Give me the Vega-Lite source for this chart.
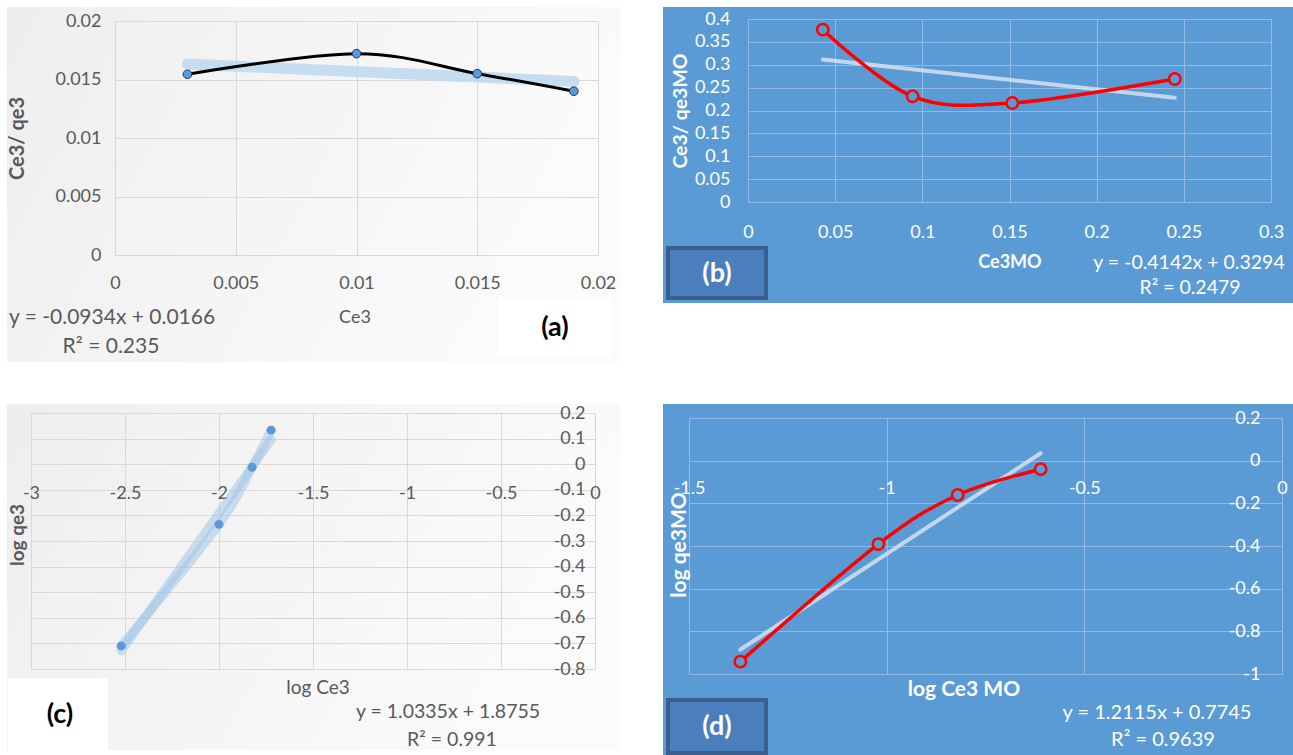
{
  "$schema": "https://vega.github.io/schema/vega-lite/v6.json",
  "background": "white",
  "padding": {"left": 7, "top": 7, "right": 0, "bottom": 0},
  "config": {
    "font": "Lato",
    "text": {"font": "Lato"},
    "axis": {"labelFlush": false, "labelOverlap": false, "labelBound": false, "domain": false, "ticks": false, "tickSize": 0, "tickCount": 20, "labelFontSize": 18, "titleFontSize": 18, "labelExpr": "'' + datum.value"}
  },
  "datasets": {
    "a": [
      {"Ce3": 0.003, "Ce3_qe3": 0.01545},
      {"Ce3": 0.010, "Ce3_qe3": 0.01721},
      {"Ce3": 0.015, "Ce3_qe3": 0.0155},
      {"Ce3": 0.019, "Ce3_qe3": 0.0140}
    ],
    "a_fit": [
      {"Ce3": 0.003, "fit": 0.01632},
      {"Ce3": 0.019, "fit": 0.01483}
    ],
    "b": [
      {"Ce3MO": 0.0429, "Ce3_qe3MO": 0.3767},
      {"Ce3MO": 0.0944, "Ce3_qe3MO": 0.2310},
      {"Ce3MO": 0.1516, "Ce3_qe3MO": 0.2164},
      {"Ce3MO": 0.2448, "Ce3_qe3MO": 0.2689}
    ],
    "b_fit": [
      {"Ce3MO": 0.0429, "fit": 0.3116},
      {"Ce3MO": 0.2448, "fit": 0.2280}
    ],
    "c": [
      {"logCe3": -2.52, "logqe3": -0.71},
      {"logCe3": -2.0, "logqe3": -0.235},
      {"logCe3": -1.824, "logqe3": -0.012},
      {"logCe3": -1.723, "logqe3": 0.133}
    ],
    "c_fit": [
      {"logCe3": -2.52, "fit": -0.7289},
      {"logCe3": -1.723, "fit": 0.0948}
    ],
    "d": [
      {"logCe3MO": -1.370, "logqe3MO": -0.942},
      {"logCe3MO": -1.021, "logqe3MO": -0.391},
      {"logCe3MO": -0.8204, "logqe3MO": -0.161},
      {"logCe3MO": -0.6105, "logqe3MO": -0.040}
    ],
    "d_fit": [
      {"logCe3MO": -1.370, "fit": -0.8853},
      {"logCe3MO": -0.6105, "fit": 0.0349}
    ],
    "one": [{}]
  },
  "columns": 2,
  "bounds": "flush",
  "align": "each",
  "spacing": {"row": 42, "column": 43},
  "concat": [
    {
      "width": 613,
      "height": 355,
      "view": {"stroke": null, "fill": {"gradient": "linear", "x1": 0, "y1": 0, "x2": 1, "y2": 0.3, "stops": [{"offset": 0, "color": "#eeeeee"}, {"offset": 1, "color": "#fbfbfb"}]}},
      "layer": [
        {
          "data": {"name": "a_fit"},
          "mark": {"type": "line", "color": "#bdd7ee", "strokeWidth": 11, "strokeCap": "round", "opacity": 0.85},
          "encoding": {
            "x": {"field": "Ce3", "type": "quantitative", "scale": {"domain": [0, 0.02], "range": [108, 591], "nice": false, "zero": false},
              "axis": {"orient": "top", "offset": -248, "values": [0, 0.005, 0.01, 0.015, 0.02], "labelColor": "#595959", "labelBaseline": "top", "labelPadding": -19, "grid": true, "gridColor": "#d9d9d9", "title": null}},
            "y": {"field": "fit", "type": "quantitative", "scale": {"domain": [0, 0.02], "range": [248, 14], "nice": false, "zero": false},
              "axis": {"orient": "left", "offset": -108, "values": [0, 0.005, 0.01, 0.015, 0.02], "labelColor": "#595959", "labelPadding": 14, "grid": true, "gridColor": "#d9d9d9", "title": "Ce3/ qe3", "titleFontSize": 20, "titleFontWeight": "bold", "titleColor": "#595959", "titlePadding": 27}}
          }
        },
        {
          "data": {"name": "a"},
          "mark": {"type": "line", "interpolate": "cardinal", "color": "#000000", "strokeWidth": 3},
          "encoding": {
            "x": {"field": "Ce3", "type": "quantitative"},
            "y": {"field": "Ce3_qe3", "type": "quantitative"}
          }
        },
        {
          "data": {"name": "a"},
          "mark": {"type": "point", "filled": true, "size": 75, "fill": "#5b9bd5", "stroke": "#203864", "strokeWidth": 1, "opacity": 1},
          "encoding": {
            "x": {"field": "Ce3", "type": "quantitative"},
            "y": {"field": "Ce3_qe3", "type": "quantitative"}
          }
        },
        {
          "data": {"name": "one"},
          "mark": {"type": "text", "text": "Ce3", "fontSize": 18, "fill": "#595959", "align": "center", "baseline": "middle"},
          "encoding": {
            "x": {"datum": 0.009938, "type": "quantitative"},
            "y": {"datum": -0.005385, "type": "quantitative"}
          }
        },
        {
          "data": {"name": "one"},
          "mark": {"type": "text", "text": "y = -0.0934x + 0.0166", "fontSize": 21, "fill": "#595959", "align": "left", "baseline": "middle"},
          "encoding": {
            "x": {"datum": -0.004389, "type": "quantitative"},
            "y": {"datum": -0.005385, "type": "quantitative"}
          }
        },
        {
          "data": {"name": "one"},
          "mark": {"type": "text", "text": "R² = 0.235", "fontSize": 21, "fill": "#595959", "align": "center", "baseline": "middle"},
          "encoding": {
            "x": {"datum": -0.000166, "type": "quantitative"},
            "y": {"datum": -0.007863, "type": "quantitative"}
          }
        },
        {
          "data": {"name": "one"},
          "mark": {"type": "rect", "fill": "#ffffff"},
          "encoding": {
            "x": {"datum": 0.015859, "type": "quantitative"},
            "x2": {"datum": 0.02058},
            "y": {"datum": -0.003675, "type": "quantitative"},
            "y2": {"datum": -0.008718}
          }
        },
        {
          "data": {"name": "one"},
          "mark": {"type": "text", "text": "(a)", "fontSize": 27, "fontWeight": "bold", "fill": "#000000", "align": "center", "baseline": "middle"},
          "encoding": {
            "x": {"datum": 0.018219, "type": "quantitative"},
            "y": {"datum": -0.006239, "type": "quantitative"}
          }
        }
      ]
    },
    {
      "width": 630,
      "height": 296,
      "view": {"stroke": null, "fill": "#5b9bd5"},
      "layer": [
        {
          "data": {"name": "b_fit"},
          "mark": {"type": "line", "color": "#dce6f2", "strokeWidth": 4, "strokeCap": "round", "opacity": 0.8},
          "encoding": {
            "x": {"field": "Ce3MO", "type": "quantitative", "scale": {"domain": [0, 0.3], "range": [85, 608], "nice": false, "zero": false},
              "axis": {"orient": "top", "offset": -195, "values": [0, 0.05, 0.1, 0.15, 0.2, 0.25, 0.3], "labelColor": "#ffffff", "labelBaseline": "top", "labelPadding": -21, "grid": true, "gridColor": "#8fbbe6", "title": null}},
            "y": {"field": "fit", "type": "quantitative", "scale": {"domain": [0, 0.4], "range": [195, 12], "nice": false, "zero": false},
              "axis": {"orient": "left", "offset": -85, "values": [0, 0.05, 0.1, 0.15, 0.2, 0.25, 0.3, 0.35, 0.4], "labelColor": "#ffffff", "labelPadding": 18, "grid": true, "gridColor": "#8fbbe6", "title": "Ce3/ qe3MO", "titleFontSize": 19.5, "titleFontWeight": "bold", "titleColor": "#ffffff", "titlePadding": 4}}
          }
        },
        {
          "data": {"name": "b"},
          "mark": {"type": "line", "interpolate": "cardinal", "color": "#ff0000", "strokeWidth": 3.5},
          "encoding": {
            "x": {"field": "Ce3MO", "type": "quantitative"},
            "y": {"field": "Ce3_qe3MO", "type": "quantitative"}
          }
        },
        {
          "data": {"name": "b"},
          "mark": {"type": "point", "filled": true, "size": 130, "fill": "#5b9bd5", "stroke": "#ff0000", "strokeWidth": 2.5, "opacity": 1},
          "encoding": {
            "x": {"field": "Ce3MO", "type": "quantitative"},
            "y": {"field": "Ce3_qe3MO", "type": "quantitative"}
          }
        },
        {
          "data": {"name": "one"},
          "mark": {"type": "text", "text": "Ce3MO", "fontSize": 18, "fontWeight": "bold", "fill": "#ffffff", "align": "center", "baseline": "middle"},
          "encoding": {
            "x": {"datum": 0.150287, "type": "quantitative"},
            "y": {"datum": -0.133333, "type": "quantitative"}
          }
        },
        {
          "data": {"name": "one"},
          "mark": {"type": "text", "text": "y = -0.4142x + 0.3294", "fontSize": 19.5, "fill": "#ffffff", "align": "center", "baseline": "middle"},
          "encoding": {
            "x": {"datum": 0.25296, "type": "quantitative"},
            "y": {"datum": -0.13333, "type": "quantitative"}
          }
        },
        {
          "data": {"name": "one"},
          "mark": {"type": "text", "text": "R² = 0.2479", "fontSize": 19.5, "fill": "#ffffff", "align": "center", "baseline": "middle"},
          "encoding": {
            "x": {"datum": 0.25354, "type": "quantitative"},
            "y": {"datum": -0.18798, "type": "quantitative"}
          }
        },
        {
          "data": {"name": "one"},
          "mark": {"type": "rect", "fill": "#4a7ebd", "stroke": "#3a5f8f", "strokeWidth": 4},
          "encoding": {
            "x": {"datum": -0.045889, "type": "quantitative"},
            "x2": {"datum": 0.010325},
            "y": {"datum": -0.100546, "type": "quantitative"},
            "y2": {"datum": -0.209836}
          }
        },
        {
          "data": {"name": "one"},
          "mark": {"type": "text", "text": "(b)", "fontSize": 27, "fontWeight": "bold", "fill": "#ffffff", "align": "center", "baseline": "middle"},
          "encoding": {
            "x": {"datum": -0.017782, "type": "quantitative"},
            "y": {"datum": -0.157377, "type": "quantitative"}
          }
        }
      ]
    },
    {
      "width": 613,
      "height": 346,
      "view": {"stroke": null, "fill": {"gradient": "linear", "x1": 0, "y1": 0, "x2": 1, "y2": 0.3, "stops": [{"offset": 0, "color": "#eeeeee"}, {"offset": 1, "color": "#fbfbfb"}]}},
      "layer": [
        {
          "data": {"name": "c_fit"},
          "mark": {"type": "line", "color": "#9dc3e6", "strokeWidth": 9, "strokeCap": "round", "opacity": 0.5},
          "encoding": {
            "x": {"field": "logCe3", "type": "quantitative", "scale": {"domain": [-3, 0], "range": [24, 588], "nice": false, "zero": false},
              "axis": {"orient": "top", "offset": -60.2, "values": [-3, -2.5, -2, -1.5, -1, -0.5, 0], "labelColor": "#595959", "labelBaseline": "top", "labelPadding": -20, "grid": true, "gridColor": "#d9d9d9", "title": null}},
            "y": {"field": "fit", "type": "quantitative", "scale": {"domain": [-0.8, 0.2], "range": [265, 9], "nice": false, "zero": false},
              "axis": {"orient": "left", "offset": -588, "values": [-0.8, -0.7, -0.6, -0.5, -0.4, -0.3, -0.2, -0.1, 0, 0.1, 0.2], "labelColor": "#595959", "labelPadding": 10, "grid": true, "gridColor": "#d9d9d9", "title": null}}
          }
        },
        {
          "data": {"name": "c"},
          "mark": {"type": "line", "interpolate": "cardinal", "color": "#9dc3e6", "strokeWidth": 9, "strokeCap": "round", "opacity": 0.5},
          "encoding": {
            "x": {"field": "logCe3", "type": "quantitative"},
            "y": {"field": "logqe3", "type": "quantitative"}
          }
        },
        {
          "data": {"name": "c"},
          "mark": {"type": "point", "filled": true, "size": 80, "fill": "#5b9bd5", "strokeWidth": 0, "opacity": 1},
          "encoding": {
            "x": {"field": "logCe3", "type": "quantitative"},
            "y": {"field": "logqe3", "type": "quantitative"}
          }
        },
        {
          "data": {"name": "one"},
          "mark": {"type": "text", "text": "log qe3", "angle": 270, "fontSize": 19, "fontWeight": "bold", "fill": "#595959", "align": "center", "baseline": "middle"},
          "encoding": {
            "x": {"datum": -3.069149, "type": "quantitative"},
            "y": {"datum": -0.276563, "type": "quantitative"}
          }
        },
        {
          "data": {"name": "one"},
          "mark": {"type": "text", "text": "log Ce3", "fontSize": 19, "fill": "#595959", "align": "center", "baseline": "middle"},
          "encoding": {
            "x": {"datum": -1.473404, "type": "quantitative"},
            "y": {"datum": -0.874219, "type": "quantitative"}
          }
        },
        {
          "data": {"name": "one"},
          "mark": {"type": "text", "text": "y = 1.0335x + 1.8755", "fontSize": 19.5, "fill": "#595959", "align": "center", "baseline": "middle"},
          "encoding": {
            "x": {"datum": -0.781915, "type": "quantitative"},
            "y": {"datum": -0.967969, "type": "quantitative"}
          }
        },
        {
          "data": {"name": "one"},
          "mark": {"type": "text", "text": "R² = 0.991", "fontSize": 19.5, "fill": "#595959", "align": "center", "baseline": "middle"},
          "encoding": {
            "x": {"datum": -0.760638, "type": "quantitative"},
            "y": {"datum": -1.077344, "type": "quantitative"}
          }
        },
        {
          "data": {"name": "one"},
          "mark": {"type": "rect", "fill": "#ffffff"},
          "encoding": {
            "x": {"datum": -3.12234, "type": "quantitative"},
            "x2": {"datum": -2.590426},
            "y": {"datum": -0.835156, "type": "quantitative"},
            "y2": {"datum": -1.116406}
          }
        },
        {
          "data": {"name": "one"},
          "mark": {"type": "text", "text": "(c)", "fontSize": 27, "fontWeight": "bold", "fill": "#000000", "align": "center", "baseline": "middle"},
          "encoding": {
            "x": {"datum": -2.845745, "type": "quantitative"},
            "y": {"datum": -0.979688, "type": "quantitative"}
          }
        }
      ]
    },
    {
      "width": 630,
      "height": 351,
      "view": {"stroke": null, "fill": "#5b9bd5"},
      "layer": [
        {
          "data": {"name": "d_fit"},
          "mark": {"type": "line", "color": "#dce6f2", "strokeWidth": 4, "strokeCap": "round", "opacity": 0.8},
          "encoding": {
            "x": {"field": "logCe3MO", "type": "quantitative", "scale": {"domain": [-1.5, 0], "range": [26, 619], "nice": false, "zero": false},
              "axis": {"orient": "top", "offset": -56.67, "values": [-1.5, -1, -0.5, 0], "labelColor": "#ffffff", "labelBaseline": "top", "labelPadding": -19, "grid": true, "gridColor": "#8fbbe6", "title": null}},
            "y": {"field": "fit", "type": "quantitative", "scale": {"domain": [-1, 0.2], "range": [270, 14], "nice": false, "zero": false},
              "axis": {"orient": "left", "offset": -619, "values": [-1, -0.8, -0.6, -0.4, -0.2, 0, 0.2], "labelColor": "#ffffff", "labelPadding": 22, "grid": true, "gridColor": "#8fbbe6", "title": null}}
          }
        },
        {
          "data": {"name": "d"},
          "mark": {"type": "line", "interpolate": "cardinal", "color": "#ff0000", "strokeWidth": 3.5},
          "encoding": {
            "x": {"field": "logCe3MO", "type": "quantitative"},
            "y": {"field": "logqe3MO", "type": "quantitative"}
          }
        },
        {
          "data": {"name": "d"},
          "mark": {"type": "point", "filled": true, "size": 130, "fill": "#5b9bd5", "stroke": "#ff0000", "strokeWidth": 2.5, "opacity": 1},
          "encoding": {
            "x": {"field": "logCe3MO", "type": "quantitative"},
            "y": {"field": "logqe3MO", "type": "quantitative"}
          }
        },
        {
          "data": {"name": "one"},
          "mark": {"type": "text", "text": "log qe3MO", "angle": 270, "fontSize": 21, "fontWeight": "bold", "fill": "#ffffff", "align": "center", "baseline": "middle"},
          "encoding": {
            "x": {"datum": -1.522766, "type": "quantitative"},
            "y": {"datum": -0.395313, "type": "quantitative"}
          }
        },
        {
          "data": {"name": "one"},
          "mark": {"type": "text", "text": "log Ce3 MO", "fontSize": 21, "fontWeight": "bold", "fill": "#ffffff", "align": "center", "baseline": "middle"},
          "encoding": {
            "x": {"datum": -0.804384, "type": "quantitative"},
            "y": {"datum": -1.075, "type": "quantitative"}
          }
        },
        {
          "data": {"name": "one"},
          "mark": {"type": "text", "text": "y = 1.2115x + 0.7745", "fontSize": 20, "fill": "#ffffff", "align": "center", "baseline": "middle"},
          "encoding": {
            "x": {"datum": -0.316189, "type": "quantitative"},
            "y": {"datum": -1.182813, "type": "quantitative"}
          }
        },
        {
          "data": {"name": "one"},
          "mark": {"type": "text", "text": "R² = 0.9639", "fontSize": 20, "fill": "#ffffff", "align": "center", "baseline": "middle"},
          "encoding": {
            "x": {"datum": -0.301012, "type": "quantitative"},
            "y": {"datum": -1.309375, "type": "quantitative"}
          }
        },
        {
          "data": {"name": "one"},
          "mark": {"type": "rect", "fill": "#4a7ebd", "stroke": "#3a5f8f", "strokeWidth": 4},
          "encoding": {
            "x": {"datum": -1.55312, "type": "quantitative"},
            "x2": {"datum": -1.305227},
            "y": {"datum": -1.121875, "type": "quantitative"},
            "y2": {"datum": -1.370313}
          }
        },
        {
          "data": {"name": "one"},
          "mark": {"type": "text", "text": "(d)", "fontSize": 27, "fontWeight": "bold", "fill": "#ffffff", "align": "center", "baseline": "middle"},
          "encoding": {
            "x": {"datum": -1.429174, "type": "quantitative"},
            "y": {"datum": -1.248438, "type": "quantitative"}
          }
        }
      ]
    }
  ]
}
